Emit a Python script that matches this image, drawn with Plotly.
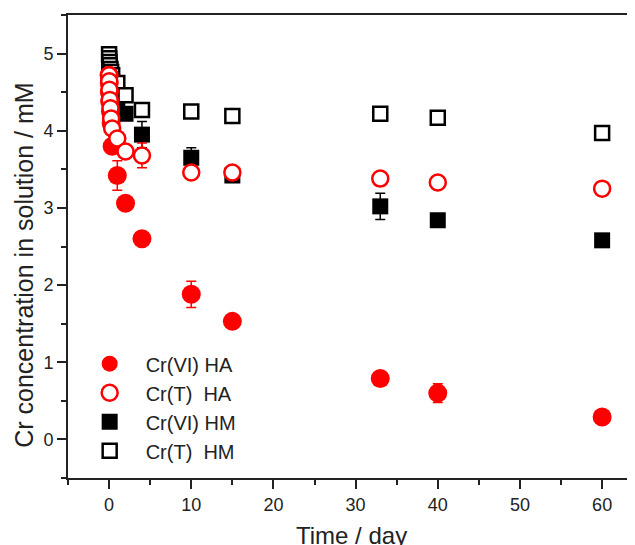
import plotly.graph_objects as go

# ---- data ----
time_day = [0, 0.02, 0.04, 0.08, 0.17, 0.25, 0.375, 1, 2, 4, 10, 15, 33, 40, 60]

crvi_ha = [4.72, 4.62, 4.50, 4.38, 4.25, 4.10, 3.80, 3.42, 3.06, 2.60, 1.88, 1.53, 0.79, 0.60, 0.29]
crvi_ha_err = [0.03, 0.03, 0.03, 0.03, 0.03, 0.03, 0.03, 0.19, 0.03, 0.03, 0.17, 0.03, 0.03, 0.12, 0.03]

crt_ha = [4.72, 4.64, 4.53, 4.40, 4.29, 4.16, 4.03, 3.90, 3.73, 3.68, 3.46, 3.46, 3.38, 3.33, 3.25]
crt_ha_err = [0.05, 0.05, 0.05, 0.05, 0.05, 0.05, 0.05, 0.05, 0.03, 0.16, 0.05, 0.02, 0.06, 0.02, 0.06]

crvi_hm = [4.90, 4.80, 4.70, 4.60, 4.50, 4.42, 4.38, 4.33, 4.22, 3.95, 3.65, 3.42, 3.02, 2.84, 2.58]
crvi_hm_err = [0.03, 0.03, 0.03, 0.03, 0.03, 0.03, 0.03, 0.03, 0.03, 0.17, 0.13, 0.03, 0.17, 0.03, 0.04]

crt_hm = [4.99, 4.94, 4.89, 4.85, 4.80, 4.76, 4.72, 4.62, 4.46, 4.27, 4.25, 4.19, 4.22, 4.17, 3.97]
crt_hm_err = [0.05, 0.03, 0.03, 0.03, 0.03, 0.03, 0.03, 0.05, 0.05, 0.02, 0.02, 0.05, 0.02, 0.05, 0.05]

legend_names = ["Cr(VI) HA", "Cr(T)  HA", "Cr(VI) HM", "Cr(T)  HM"]

RED = "#ff0000"
BLACK = "#000000"
FONT = "Liberation Sans, Arial, sans-serif"

fig = go.Figure()

def add(y, err, name, rank, symbol, color, fill, size):
    fig.add_trace(go.Scatter(
        x=time_day, y=y, mode="markers", name=name, legendrank=rank,
        marker=dict(symbol=symbol, size=size, color=fill,
                    line=dict(color=color, width=2.5 if fill == "white" else 0)),
        error_y=dict(type="data", array=err, color=color, thickness=1.5, width=5),
        cliponaxis=False,
    ))

# drawing order: HM filled, HM open, HA filled, HA open
add(crvi_hm, crvi_hm_err, legend_names[2], 3, "square", BLACK, BLACK, 16)
add(crt_hm, crt_hm_err, legend_names[3], 4, "square", BLACK, "white", 14)
add(crvi_ha, crvi_ha_err, legend_names[0], 1, "circle", RED, RED, 19)
add(crt_ha, crt_ha_err, legend_names[1], 2, "circle", RED, "white", 16)

axis_common = dict(
    showgrid=False, zeroline=False, showline=True, linecolor="#222", linewidth=2,
    ticks="outside", ticklen=9, tickwidth=2, tickcolor="#222",
    tickfont=dict(family=FONT, size=18, color="#222"),
)

fig.update_xaxes(range=[-5, 64], dtick=10, tick0=0, mirror=True,
                 minor=dict(ticks="outside", dtick=5, tick0=0, ticklen=5, tickwidth=2, tickcolor="#222"),
                 **axis_common)
fig.update_yaxes(range=[-0.5, 5.5], dtick=1, tick0=0,
                 minor=dict(ticks="outside", dtick=0.5, tick0=0, ticklen=5, tickwidth=2, tickcolor="#222"),
                 **axis_common)

fig.add_annotation(text="Time / day", xref="paper", yref="paper", x=0.5, y=-0.125,
                   xanchor="center", yanchor="middle", showarrow=False,
                   font=dict(family=FONT, size=24, color="#222"))
fig.add_annotation(text="Cr concentration in solution / mM", xref="paper", yref="paper",
                   x=-0.078, y=0.46, xanchor="center", yanchor="middle", textangle=-90,
                   showarrow=False, borderpad=0,
                   font=dict(family=FONT, size=25, color="#222"))

# the page body adds an 8 px offset; the figure is sized so the plot lands where the reference has it
fig.update_layout(
    width=627, height=537,
    margin=dict(l=60, r=0, t=7, b=67),
    plot_bgcolor="white", paper_bgcolor="white",
    showlegend=True,
    legend=dict(x=0.01, y=0.289, xanchor="left", yanchor="top", bgcolor="rgba(0,0,0,0)",
                itemwidth=62, tracegroupgap=0,
                font=dict(family=FONT, size=20, color="#222")),
)

fig.write_html("out.html")
